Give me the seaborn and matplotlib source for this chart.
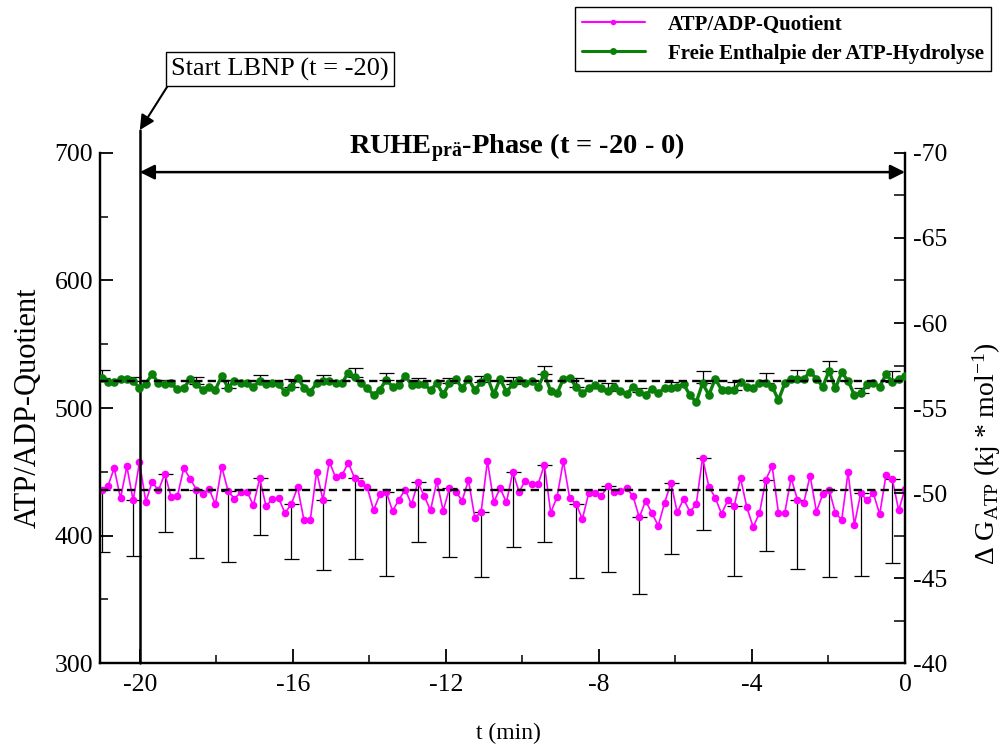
import numpy as np
import matplotlib
matplotlib.use("Agg")
import matplotlib.pyplot as plt
from matplotlib.ticker import MultipleLocator
from matplotlib.lines import Line2D
import seaborn as sns

# ---------------- data ----------------
t_start, t_end, n_points = -21.0, 0.0, 128   # sampling ~10 s

atp_adp = [
    436.0, 438.6, 452.9, 429.2, 454.2, 427.6, 457.4, 426.5, 442.0, 435.4, 448.5, 430.2, 431.0, 452.9, 444.6, 436.0, 432.8, 436.5, 424.4, 454.0, 434.9,
    428.9, 433.9, 434.4, 423.7, 444.8, 423.1, 428.6, 429.2, 417.6, 424.7, 437.8, 411.9, 412.4, 450.1, 427.8, 457.9, 445.6, 447.2, 457.1, 445.1, 441.4,
    437.8, 419.7, 432.3, 434.4, 419.2, 428.1, 436.0, 424.4, 441.7, 431.1, 419.7, 442.5, 419.5, 437.0, 434.4, 427.3, 443.5, 414.0, 418.4, 458.7, 426.0,
    437.3, 426.0, 449.8, 434.4, 443.0, 440.4, 440.1, 455.6, 417.9, 430.2, 458.4, 429.2, 425.0, 412.9, 433.1, 433.1, 431.0, 438.8, 433.9, 435.2, 437.0,
    431.0, 414.2, 427.1, 417.6, 407.7, 425.7, 441.2, 418.2, 428.6, 418.7, 424.4, 460.8, 438.3, 429.7, 417.1, 427.6, 423.1, 445.1, 422.1, 406.7, 417.6,
    443.8, 454.5, 417.6, 417.9, 445.1, 428.1, 425.8, 446.9, 418.7, 432.3, 436.0, 417.6, 412.4, 449.5, 408.5, 433.1, 427.6, 433.1, 416.6, 447.5, 444.1, 419.7, 436.5,
]

delta_g = [
    -56.78, -56.55, -56.55, -56.71, -56.71, -56.59, -56.16, -56.43, -57.00, -56.47, -56.39, -56.45, -56.10, -56.16, -56.71, -56.39, -56.08, -56.26, -56.08, -56.88, -56.20,
    -56.59, -56.49, -56.45, -56.24, -56.59, -56.39, -56.45, -56.39, -55.96, -56.22, -56.78, -56.20, -55.96, -56.45, -56.59, -56.59, -56.45, -56.45, -57.08, -56.84, -56.46,
    -56.16, -55.77, -56.08, -56.65, -56.26, -56.35, -56.90, -56.35, -56.39, -56.39, -56.06, -56.45, -55.80, -56.45, -56.71, -56.16, -56.71, -56.06, -56.51, -56.80, -55.80,
    -56.71, -55.96, -56.39, -56.65, -56.45, -56.59, -56.26, -56.98, -56.00, -55.86, -56.71, -56.78, -56.26, -55.86, -56.16, -56.35, -56.20, -56.00, -56.26, -56.00, -55.80,
    -56.26, -55.92, -55.77, -56.12, -55.86, -56.20, -56.20, -56.26, -56.39, -55.77, -55.33, -56.45, -55.77, -56.71, -56.08, -56.08, -56.08, -56.51, -56.26, -56.16, -56.45,
    -56.45, -56.26, -55.47, -56.45, -56.71, -56.71, -56.71, -57.14, -56.71, -56.26, -57.18, -56.16, -57.10, -56.59, -55.77, -55.86, -56.39, -56.45, -56.26, -56.98, -56.55, -56.71, -56.90,
]

# one-sided error bars on every 5th sample
err_step = 5
atp_err = [49, 44, 45.5, 53.4, 56, 44.7, 43.1, 54.9, 63.8, 65.9, 46.5, 54.1, 51,
           58.8, 60.4, 58.1, 67.2, 60.1, 56, 56.2, 54.6, 55.7, 54.6, 68.3, 64.6, 65.7]
dg_err = [0.47, 0.25, 0.25, 0.43, 0.47, 0.35, 0.5, 0.35, 0.53, 0.43, 0.35, 0.3, 0.35,
          0.45, 0.47, 0.49, 0.45, 0.24, 0.35, 0.73, 0.43, 0.59, 0.53, 0.59, 0.3, 0.63]

atp_mean = 436.0
dg_mean = -56.6

x_ticks = [-20, -16, -12, -8, -4, 0]
left_ticks = [300, 400, 500, 600, 700]
right_ticks = [-70, -65, -60, -55, -50, -45, -40]

label_atp = "ATP/ADP-Quotient"
label_dg = "Freie Enthalpie der ATP-Hydrolyse"

# ---------------- style ----------------
sns.set_theme(style="ticks")
plt.rcParams["font.family"] = ["Liberation Serif", "DejaVu Serif"]
plt.rcParams["mathtext.fontset"] = "custom"
plt.rcParams["mathtext.rm"] = "Liberation Serif"
plt.rcParams["mathtext.it"] = "Liberation Serif:italic"
plt.rcParams["mathtext.bf"] = "Liberation Serif:bold"
plt.rcParams["axes.unicode_minus"] = False
for k in ("text.color", "axes.labelcolor", "xtick.color", "ytick.color", "axes.edgecolor"):
    plt.rcParams[k] = "black"

t = np.linspace(t_start, t_end, n_points)
atp = np.array(atp_adp)
dg = np.array(delta_g)

fig = plt.figure(figsize=(10.05, 7.47), dpi=100)
ax = fig.add_axes([0.0995, 0.1124, 0.801, 0.6828])
ax2 = ax.twinx()

MAG = "#FF00FF"
GRN = "#0A800A"

# error bars (one-sided)
ax.errorbar(t[::err_step], atp[::err_step], yerr=[atp_err, np.zeros(len(atp_err))],
            fmt="none", ecolor="black", elinewidth=0.9, capsize=5.4, capthick=0.9, zorder=1)
ax2.errorbar(t[::err_step], dg[::err_step], yerr=[dg_err, np.zeros(len(dg_err))],
             fmt="none", ecolor="black", elinewidth=0.9, capsize=5.4, capthick=0.9, zorder=1)

sns.lineplot(x=t, y=atp, ax=ax, color=MAG, lw=1.2, marker="o", markersize=5.5,
             markeredgewidth=0, legend=False, zorder=3)
sns.lineplot(x=t, y=dg, ax=ax2, color=GRN, lw=2.4, marker="o", markersize=6.2,
             markeredgewidth=0, legend=False, zorder=3)

ax.axhline(atp_mean, color="black", lw=1.7, ls=(0, (3.5, 2.2)), zorder=4)
ax2.axhline(dg_mean, color="black", lw=1.7, ls=(0, (3.5, 2.2)), zorder=4)

# axes limits / ticks
ax.set_xlim(-21.04, 0)
ax.set_ylim(300, 700)
ax2.set_ylim(-40, -70)

ax.set_xticks(x_ticks)
ax.set_xticklabels([str(v) for v in x_ticks])
ax.xaxis.set_minor_locator(MultipleLocator(2))
ax.set_yticks(left_ticks)
ax.yaxis.set_minor_locator(MultipleLocator(50))
ax2.set_yticks(right_ticks)
ax2.set_yticklabels([str(v) for v in right_ticks])
ax2.yaxis.set_minor_locator(MultipleLocator(2.5))

TICK_FS = 18.5
ax.tick_params(axis="x", which="major", direction="in", length=10, width=1.3, labelsize=TICK_FS, pad=8)
ax.tick_params(axis="x", which="minor", direction="in", length=6, width=1.1)
ax.tick_params(axis="y", which="major", direction="in", length=9, width=1.3, labelsize=TICK_FS, pad=5)
ax.tick_params(axis="y", which="minor", direction="in", length=6, width=1.1)
ax2.tick_params(axis="y", which="major", direction="in", length=8, width=1.3, labelsize=TICK_FS, pad=6)
ax2.tick_params(axis="y", which="minor", direction="in", length=8, width=1.1)
ax.tick_params(axis="x", which="both", top=False)

for a in (ax, ax2):
    a.spines["top"].set_visible(False)
    for s in ("left", "right", "bottom"):
        a.spines[s].set_linewidth(1.6)
        a.spines[s].set_color("black")
    a.grid(False)

ax.set_xlabel("t (min)", fontsize=17)
ax.xaxis.set_label_coords(0.507, -0.118)
ax.set_ylabel(label_atp, fontsize=22)
ax.yaxis.set_label_coords(-0.071, 0.5)
ax2.set_ylabel(r"$\Delta$ G$_{\mathrm{ATP}}$ (kj * mol$^{-1}$)", fontsize=20)
ax2.yaxis.set_label_coords(1.0815, 0.41)

# start marker line and annotations
ax.axvline(-20, ymin=0, ymax=(718 - 300) / 400, color="black", lw=1.8, clip_on=False, zorder=5)
ax.annotate("", xy=(0, 685), xytext=(-20, 685),
            arrowprops=dict(arrowstyle="<|-|>", color="black", lw=1.8,
                            shrinkA=0, shrinkB=0, mutation_scale=22),
            annotation_clip=False, zorder=6)
ax.text(-10.15, 699.5, "RUHE$_{\\mathbf{prä}}$-Phase (t = -20 - 0)", ha="center", va="baseline",
        fontsize=20.5, fontweight="bold", clip_on=False)
ax.annotate("Start LBNP (t = -20)", xy=(-20, 718), xycoords="data",
            xytext=(0.2785, 0.9076), textcoords="figure fraction",
            ha="center", va="center", fontsize=19,
            bbox=dict(boxstyle="square,pad=0.2", fc="white", ec="black", lw=1.0),
            arrowprops=dict(arrowstyle="-|>", color="black", lw=1.5, relpos=(0, 0),
                            shrinkA=0, shrinkB=0, mutation_scale=22),
            annotation_clip=False)

handles = [Line2D([], [], color=MAG, lw=1.5, marker="o", markersize=4, markeredgewidth=0),
           Line2D([], [], color=GRN, lw=2.2, marker="o", markersize=5, markeredgewidth=0)]
leg = fig.legend(handles, [label_atp, label_dg], loc="upper right", bbox_to_anchor=(0.986, 0.99),
                 borderaxespad=0.0,
                 prop=dict(family="Liberation Serif", weight="bold", size=15),
                 frameon=True, fancybox=False, edgecolor="black", framealpha=1,
                 handlelength=3.0, borderpad=0.35, labelspacing=0.42, handletextpad=1.1)
leg.get_frame().set_linewidth(1.0)

fig.savefig("out.png", dpi=100)
